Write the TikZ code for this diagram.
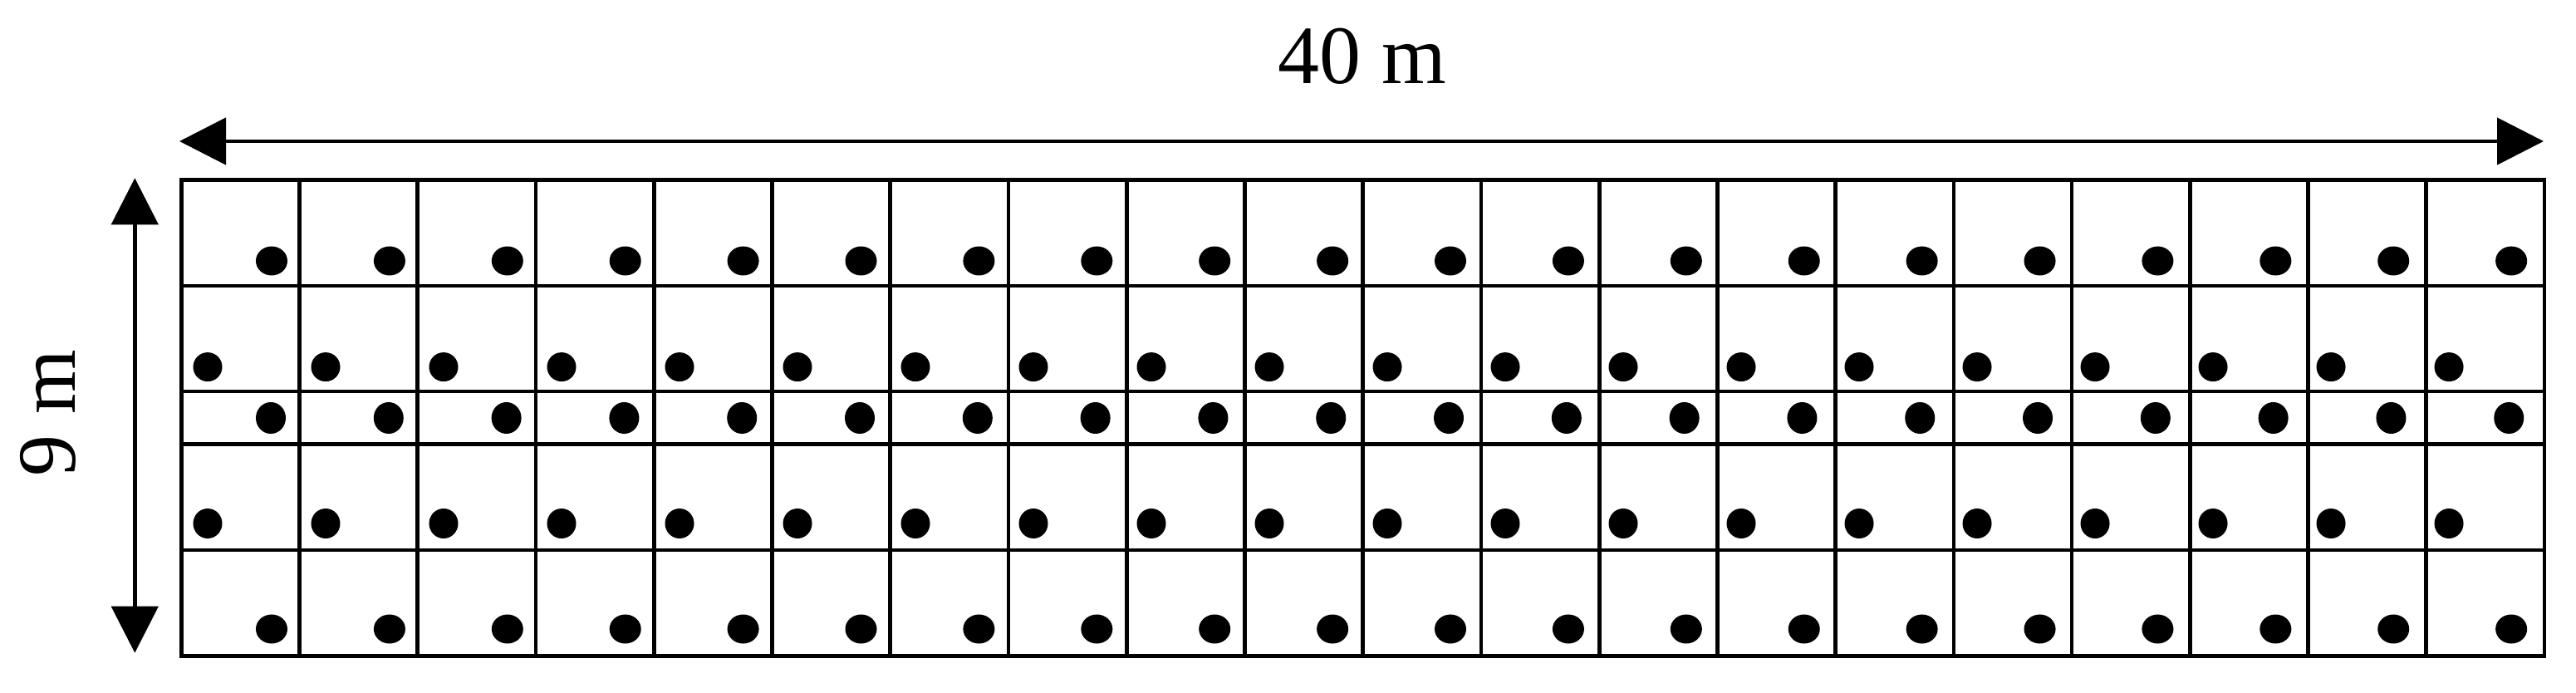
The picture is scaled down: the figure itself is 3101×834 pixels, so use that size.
\documentclass[tikz,border=0pt]{standalone}
\usepackage{fontspec}
\setmainfont{Liberation Serif}
\usetikzlibrary{arrows.meta}
\begin{document}
\begin{tikzpicture}[x=0.01cm,y=-0.01cm,
  gridline/.style={line width=1.34pt},
  dimarrow/.style={line width=1.34pt,
    {Triangle[length=0.56cm,width=0.56cm]}-{Triangle[length=0.56cm,width=0.56cm]}},
  dimlabel/.style={font=\fontsize{28.4}{30}\selectfont,inner sep=0pt},
  dotR/.style={fill=black},
]
\useasboundingbox (0,0) rectangle (3101,834);

% grid (20 columns of 2 m, rows 2,2,1,2,2 m)
\draw[gridline] (218.3,216.7) rectangle (3063,789.3);
\foreach \i in {1,...,19}
  \draw[gridline] ({218.3+142.235*\i},216.7) -- ({218.3+142.235*\i},789.3);
\foreach \yy in {343.9,471.1,534.7,661.9}
  \draw[gridline] (218.3,\yy) -- (3063,\yy);

% plants
\foreach \i in {0,...,19}{
  \fill[dotR] ({327+141.9*\i},314)   ellipse [x radius=0.19cm,  y radius=0.175cm];
  \fill[dotR] ({250+142*\i},441.6)   ellipse [x radius=0.175cm, y radius=0.175cm];
  \fill[dotR] ({326+141.8*\i},503)   ellipse [x radius=0.18cm,  y radius=0.19cm];
  \fill[dotR] ({250+142*\i},630)     ellipse [x radius=0.175cm, y radius=0.18cm];
  \fill[dotR] ({327+141.9*\i},757)   ellipse [x radius=0.19cm,  y radius=0.175cm];
}

% dimension arrows
\coordinate (hl) at (216,170);
\coordinate (hr) at (3062,170);
\draw[dimarrow] (hl) -- (hr);
\coordinate (vt) at (162.3,214.3);
\coordinate (vb) at (162.3,785.7);
\draw[dimarrow] (vt) -- (vb);

% labels
\node[dimlabel,anchor=base] (lenlabel) at (1640,101) {40 m};
\node[dimlabel,anchor=base,rotate=90] (widlabel) at (90,497) {9 m};
\end{tikzpicture}
\end{document}
